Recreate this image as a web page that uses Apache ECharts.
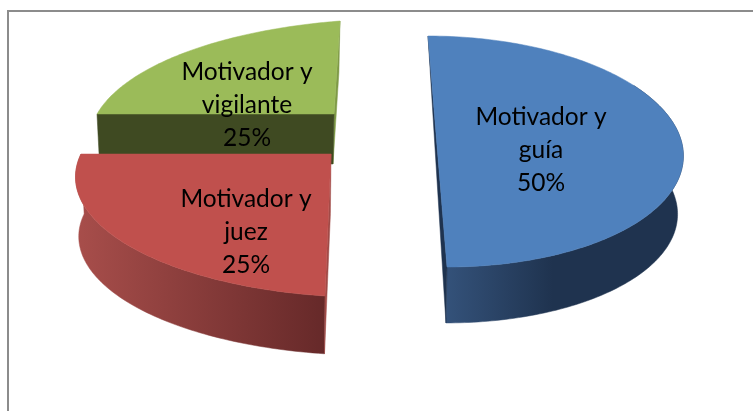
<!DOCTYPE html>
<html>
<head>
<meta charset="utf-8">
<style>html,body{margin:0;padding:0;background:#fff}#c{width:753px;height:411px}</style>
<script src="https://cdn.jsdelivr.net/npm/echarts@6/dist/echarts.min.js"></script>
</head>
<body>
<div id="c"></div>
<script>
const categories = ['Motivador y\nguía', 'Motivador y\njuez', 'Motivador y\nvigilante'];
const values = [50, 25, 25];

// Projection of each exploded slice: angle -> screen, a per-slice perspective.
const views = [
  {C:[436.55,139.95],A:[244.45,0],B:[34.25,-100.35],p:0,q:0.1,D:[-0.85,58.5],s:0.98,z:30,label:[541,150],wallFrom:60,
   top:'#4f81bd',cut:'#1f334f',wall:['#34527a','#1f334f','#1f334f'],stops:[0,0.45,1],showWall:true,cutMode:'end'},
  {C:[331,154],A:[239.47,-20.02],B:[71,-82.8],p:-0.13,q:0.2,D:[-0.6,59.9],s:0.985,z:20,label:[246,232],wallFrom:180,
   top:'#c0504d',cut:'#a04a47',wall:['#a84e4b','#662929'],stops:[0,1],showWall:true,cutMode:'start'},
  {C:[334,114],A:[212.75,-28.5],B:[91,-87.75],p:-0.25,q:0.25,D:[-1,50],s:0.985,z:10,label:[247,105],wallFrom:270,
   top:'#9bbb59',cut:'#3f4a22',cut2:'#7f9a47',wall:null,showWall:false,cutMode:'both'}
];

const total = values.reduce((a, b) => a + b, 0);
const starts = [];
values.reduce((acc, v, i) => { starts[i] = acc; return acc + v; }, 0);

function project(v, r, deg) {
  const t = deg * Math.PI / 180, u = r * Math.sin(t), w = r * Math.cos(t);
  const d = 1 + v.p * u + v.q * w;
  return [(v.C[0] + u * v.A[0] + w * v.B[0]) / d, (v.C[1] + u * v.A[1] + w * v.B[1]) / d];
}
function lower(v, P) {
  return [v.C[0] + (P[0] - v.C[0]) * v.s + v.D[0], v.C[1] + (P[1] - v.C[1]) * v.s + v.D[1]];
}
function poly(points, fill, z2) {
  return {type:'polygon', shape:{points}, style:{fill, stroke:fill, lineWidth:0.5}, z2};
}

function renderItem(params, api) {
  const i = params.dataIndex, v = views[i], val = api.value(0);
  const a0 = starts[i] / total * 360, a1 = a0 + val / total * 360;
  const arc = [], wallTop = [];
  for (let a = a0; a <= a1 + 1e-6; a += 1) {
    const P = project(v, 1, a);
    arc.push(P);
    if (a >= v.wallFrom) wallTop.push(P);
  }
  const wallLow = wallTop.map(P => lower(v, P));
  const apex = v.C, apexLow = lower(v, apex);
  const first = arc[0], last = arc[arc.length - 1];
  const kids = [];
  if (v.showWall) {
    kids.push(poly(wallTop.concat(wallLow.slice().reverse()), new echarts.graphic.LinearGradient(0, 0, 1, 0,
      v.wall.map((c, k) => ({offset:v.stops[k], color:c}))), v.z));
  }
  if (v.cutMode === 'end') {
    kids.push(poly([first, last, lower(v, last)], v.cut, v.z + 1));
  } else if (v.cutMode === 'start') {
    kids.push(poly([apex, first, lower(v, first), apexLow], v.cut, v.z + 1));
  } else {
    kids.push(poly([apex, last, lower(v, last), apexLow], v.cut2, v.z + 1));
    kids.push(poly([apex, first, lower(v, first), apexLow], v.cut, v.z + 1));
  }
  kids.push(poly([apex].concat(arc), v.top, v.z + 2));
  kids.push({type:'text', z2:100, style:{
    text: categories[i] + '\n' + Math.round(val / total * 100) + '%',
    x: v.label[0], y: v.label[1], align:'center', verticalAlign:'middle',
    fill:'#000', font:'24.5px Lato', lineHeight:33
  }});
  return {type:'group', children:kids};
}

const chart = echarts.init(document.getElementById('c'), null, {renderer:'canvas'});
chart.setOption({
  animation:false,
  backgroundColor:'#fff',
  graphic:[{type:'rect', shape:{x:8, y:11, width:800, height:500},
    style:{fill:'none', stroke:'#8c8c8c', lineWidth:2}, silent:true, z:-1}],
  series:[{type:'custom', coordinateSystem:'none', renderItem, data:values.map(x => [x]), silent:true}]
});
</script>
</body>
</html>
